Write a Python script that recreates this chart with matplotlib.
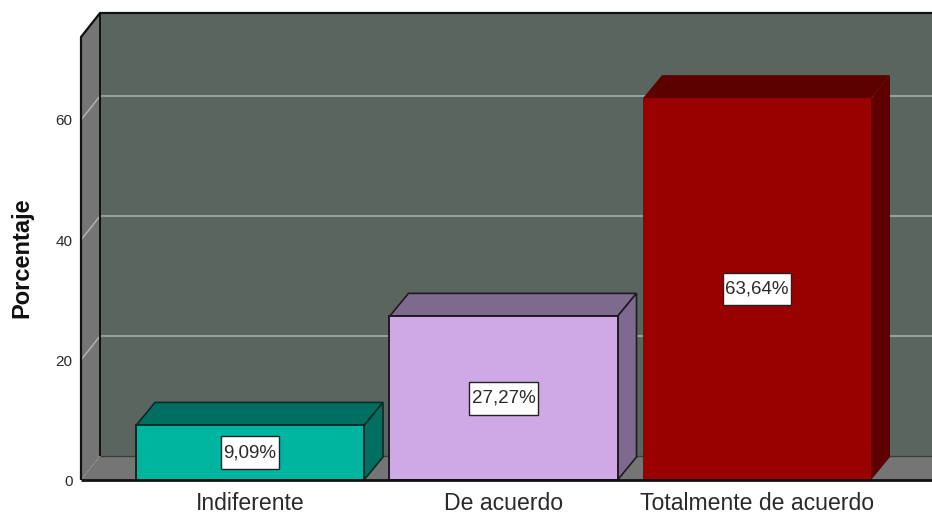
import matplotlib
matplotlib.use("Agg")
import matplotlib.pyplot as plt
from matplotlib.patches import Polygon
from matplotlib.path import Path

categories = ["Indiferente", "De acuerdo", "Totalmente de acuerdo"]
values = [9.09, 27.27, 63.64]
value_labels = ["9,09%", "27,27%", "63,64%"]
y_ticks = [0, 20, 40, 60]
front_colors = ["#00B5A0", "#CEA9E5", "#990000"]
dark_colors = ["#006F61", "#7F6A8F", "#5C0000"]
edge_colors = ["#0A2A26", "#1E1A22", None]

W, H = 932, 514
plt.rcParams["font.family"] = ["Liberation Sans", "DejaVu Sans"]
fig = plt.figure(figsize=(W / 100, H / 100), dpi=100, facecolor="white")
left, bottom_px, top_px = 81, 480, 37
ax = fig.add_axes([left / W, 1 - bottom_px / H, (W - left) / W, (bottom_px - top_px) / H])
unit = 253.5
ax.set_xlim((left - 250) / unit, (W - 250) / unit)
ymax = (bottom_px - top_px) / 6.0
ax.set_ylim(0, ymax)
x0, x1 = ax.get_xlim()
dx, dy = 19 / unit, 24 / 6.0
bw = 228 / unit
bdx, bdy = 19 / unit, 23 / 6.0

def poly(pts, fc, ec="none", lw=0, z=1):
    ax.add_patch(Polygon(pts, closed=True, facecolor=fc, edgecolor=ec, linewidth=lw,
                         clip_on=False, zorder=z, joinstyle="miter"))

def line(xs, ys, c="#111111", lw=1.5, z=2):
    ax.plot(xs, ys, color=c, lw=lw, clip_on=False, zorder=z, solid_capstyle="butt")

def label_box(x, y, w, h, mutation_size):
    px, py = 0.14 * mutation_size, 0.42 * mutation_size
    return Path([(x - px, y - py), (x + w + px, y - py), (x + w + px, y + h + py),
                 (x - px, y + h + py), (x - px, y - py)], closed=True)

# walls
poly([(x0 + dx, dy), (x1, dy), (x1, ymax + dy), (x0 + dx, ymax + dy)], "#5B655F")
poly([(x0, 0), (x0 + dx, dy), (x0 + dx, ymax + dy), (x0, ymax)], "#757575")
poly([(x0, 0), (x1, 0), (x1, dy), (x0 + dx, dy)], "#757575")

# gridlines
for t in y_ticks[1:]:
    line([x0, x0 + dx, x1], [t, t + dy, t + dy], c="#B4B8B4", lw=1.0)

# frame
line([x0, x0, x0 + dx, x1], [0, ymax, ymax + dy, ymax + dy], lw=1.6, z=3)
line([x0 + dx, x0 + dx], [dy, ymax + dy], lw=1.4, z=3)
line([x0 + dx, x1], [dy, dy], c="#3A3F3B", lw=1, z=3)
line([x0, x1], [0, 0], lw=2, z=5.5)

# bars
for i, (v, f, d, e) in enumerate(zip(values, front_colors, dark_colors, edge_colors)):
    a, b = i - bw / 2, i + bw / 2
    if e:
        poly([(a, v), (b, v), (b + bdx, v + bdy), (a + bdx, v + bdy)], d, e, 1.2, 4)
        poly([(b, 0), (b + bdx, bdy), (b + bdx, v + bdy), (b, v)], d, e, 1.2, 4)
        poly([(a, 0), (b, 0), (b, v), (a, v)], f, e, 1.4, 5)
    else:
        poly([(a, v), (b, v), (b + bdx, v + bdy), (a + bdx, v + bdy)], d, z=4)
        poly([(b, 0), (b + bdx, bdy), (b + bdx, v + bdy), (b, v)], d, z=4)
        poly([(a, 0), (b, 0), (b, v), (a, v)], f, z=5)
    ax.text(i, v / 2, value_labels[i], ha="center", va="center", fontsize=13.5, color="#2A2A2A", zorder=6,
            bbox=dict(boxstyle=label_box, facecolor="white", edgecolor="#222222", linewidth=1))

for s in ax.spines.values():
    s.set_visible(False)
ax.patch.set_visible(False)
ax.set_xticks(range(len(categories)))
ax.set_xticklabels(categories, fontsize=16.6, color="#2A2A2A")
ax.set_yticks(y_ticks)
ax.set_yticklabels([str(t) for t in y_ticks], fontsize=11, color="#2A2A2A")
ax.tick_params(length=0, axis="both")
ax.tick_params(axis="x", pad=9)
ax.tick_params(axis="y", pad=6)
fig.text(22 / W, 1 - 258 / H, "Porcentaje", rotation=90, ha="center", va="center",
         fontsize=17, fontweight="bold", color="#111111")
fig.savefig("out.png", dpi=100, facecolor="white")
